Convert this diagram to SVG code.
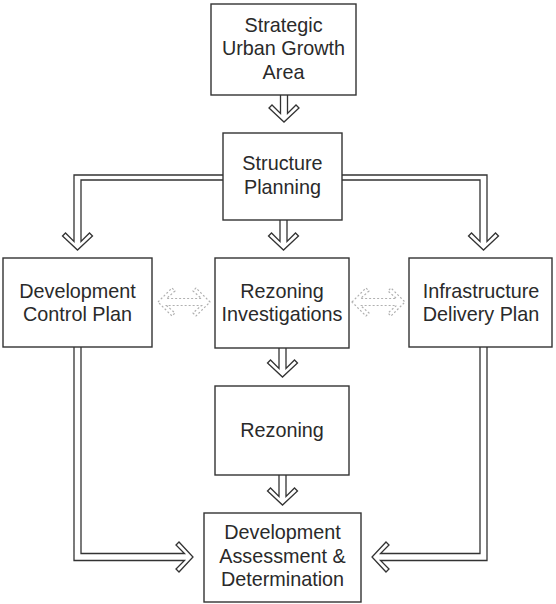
<svg xmlns="http://www.w3.org/2000/svg" width="556" height="604" viewBox="0 0 556 604">
<style>
.box{fill:#fff;stroke:#333;stroke-width:1.4}
.lbl{font-family:"Liberation Sans",Arial,sans-serif;font-size:19.8px;fill:#2a2a2a;text-anchor:middle}
.arr{fill:#fff;stroke:#333;stroke-width:1.3;stroke-linejoin:miter}
.dot{fill:#fff;stroke:#b0b0b0;stroke-width:1.2;stroke-dasharray:2 2}
</style>
<rect width="556" height="604" fill="#fff"/>
<g id="connectors">
<path class="arr" d="M280.5,95 L280.5,113.5 L272,105 L269,108 L284,122 L299,108 L296,105 L287.5,113.5 L287.5,95"/>
<path class="arr" d="M223,175 L74,175 L74,241.5 L65.5,233 L62.5,236 L77.5,250 L92.5,236 L89.5,233 L81,241.5 L81,180 L223,180"/>
<path class="arr" d="M342,175 L487,175 L487,241.5 L495.5,233 L498.5,236 L483.5,250 L468.5,236 L471.5,233 L480,241.5 L480,180 L342,180"/>
<path class="arr" d="M280,220 L280,241.5 L271.5,233 L268.5,236 L283.5,250 L298.5,236 L295.5,233 L287,241.5 L287,220"/>
<path class="arr" d="M279,348 L279,368.5 L270.5,360 L267.5,363 L282.5,377 L297.5,363 L294.5,360 L286,368.5 L286,348"/>
<path class="arr" d="M279,475 L279,496.5 L270.5,488 L267.5,491 L282.5,505 L297.5,491 L294.5,488 L286,496.5 L286,475"/>
<path class="arr" d="M74,347 L74,560.5 L184.5,560.5 L176,569 L179,572 L193,557 L179,542 L176,545 L184.5,553.5 L81,553.5 L81,347"/>
<path class="arr" d="M487,347 L487,560.5 L380.5,560.5 L389,569 L386,572 L372,557 L386,542 L389,545 L380.5,553.5 L480,553.5 L480,347"/>
<path class="dot" d="M158,302 L172,288 L175,291 L166.5,298.5 L201.5,298.5 L193,291 L196,288 L210,302 L196,316 L193,313 L201.5,305.5 L166.5,305.5 L175,313 L172,316 Z"/>
<path class="dot" d="M352,302 L366,288 L369,291 L360.5,298.5 L396.5,298.5 L388,291 L391,288 L405,302 L391,316 L388,313 L396.5,305.5 L360.5,305.5 L369,313 L366,316 Z"/>
</g>
<g id="strategic">
<rect class="box" x="211" y="4" width="145" height="91"/>
<text class="lbl" x="283.5" y="31.5">Strategic</text>
<text class="lbl" x="283.5" y="55">Urban Growth</text>
<text class="lbl" x="283.5" y="78.5">Area</text>
</g>
<g id="structure">
<rect class="box" x="223" y="133" width="119" height="87"/>
<text class="lbl" x="282.5" y="170">Structure</text>
<text class="lbl" x="282.5" y="193.5">Planning</text>
</g>
<g id="dcp">
<rect class="box" x="3" y="258" width="149" height="89"/>
<text class="lbl" x="77.5" y="298">Development</text>
<text class="lbl" x="77.5" y="321">Control Plan</text>
</g>
<g id="rezinv">
<rect class="box" x="215" y="258" width="134" height="90"/>
<text class="lbl" x="282" y="298">Rezoning</text>
<text class="lbl" x="282" y="321">Investigations</text>
</g>
<g id="idp">
<rect class="box" x="409" y="258" width="143" height="89"/>
<text class="lbl" x="481" y="298">Infrastructure</text>
<text class="lbl" x="481" y="321">Delivery Plan</text>
</g>
<g id="rezoning">
<rect class="box" x="215" y="386" width="134" height="89"/>
<text class="lbl" x="282" y="437">Rezoning</text>
</g>
<g id="da">
<rect class="box" x="204" y="513" width="157" height="89"/>
<text class="lbl" x="282.5" y="539">Development</text>
<text class="lbl" x="282.5" y="563">Assessment &amp;</text>
<text class="lbl" x="282.5" y="586">Determination</text>
</g>
</svg>
